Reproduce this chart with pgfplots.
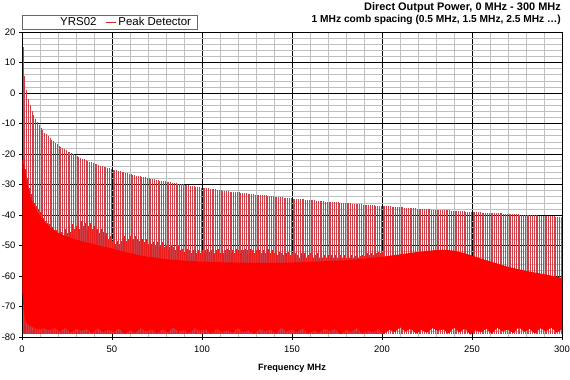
\documentclass[border=0pt]{standalone}
\usepackage{pgfplots}
\pgfplotsset{compat=1.18}
\usepackage{pgfplotstable}
\usepackage{fontspec}
\setmainfont{Liberation Sans}
\definecolor{spk}{RGB}{208,62,72}
\definecolor{legline}{RGB}{190,40,50}
\definecolor{secred}{RGB}{235,30,30}
\definecolor{floorred}{RGB}{255,0,0}

% peak of each comb line at 0.5, 1.5, 2.5 ... 299.5 MHz
\pgfplotstableread[row sep=\\]{y\\
15.0\\ 5.5\\ 1.0\\ -1.9\\ -4.1\\ -5.8\\ -7.3\\ -8.5\\ -9.6\\ -10.6\\
-11.4\\ -12.2\\ -13.0\\ -13.6\\ -14.2\\ -14.8\\ -15.4\\ -15.9\\ -16.4\\ -16.8\\
-17.3\\ -17.7\\ -18.1\\ -18.4\\ -18.8\\ -19.2\\ -19.5\\ -19.8\\ -20.1\\ -20.4\\
-20.7\\ -21.0\\ -21.3\\ -21.5\\ -21.8\\ -22.0\\ -22.3\\ -22.5\\ -22.7\\ -23.0\\
-23.2\\ -23.4\\ -23.6\\ -23.8\\ -24.0\\ -24.2\\ -24.4\\ -24.6\\ -24.7\\ -24.9\\
-25.1\\ -25.2\\ -25.4\\ -25.6\\ -25.7\\ -25.9\\ -26.0\\ -26.2\\ -26.3\\ -26.5\\
-26.7\\ -26.8\\ -26.9\\ -27.1\\ -27.2\\ -27.3\\ -27.5\\ -27.6\\ -27.7\\ -27.9\\
-28.0\\ -28.1\\ -28.2\\ -28.3\\ -28.4\\ -28.6\\ -28.7\\ -28.8\\ -28.9\\ -29.0\\
-29.1\\ -29.2\\ -29.3\\ -29.4\\ -29.5\\ -29.6\\ -29.7\\ -29.8\\ -29.9\\ -30.0\\
-30.2\\ -30.2\\ -30.3\\ -30.4\\ -30.5\\ -30.6\\ -30.7\\ -30.8\\ -30.9\\ -31.0\\
-31.1\\ -31.1\\ -31.2\\ -31.3\\ -31.4\\ -31.5\\ -31.6\\ -31.6\\ -31.7\\ -31.8\\
-31.9\\ -32.0\\ -32.0\\ -32.1\\ -32.2\\ -32.3\\ -32.3\\ -32.4\\ -32.5\\ -32.6\\
-32.6\\ -32.7\\ -32.8\\ -32.8\\ -32.9\\ -33.0\\ -33.1\\ -33.1\\ -33.2\\ -33.3\\
-33.3\\ -33.4\\ -33.5\\ -33.5\\ -33.6\\ -33.6\\ -33.7\\ -33.8\\ -33.8\\ -33.9\\
-34.0\\ -34.0\\ -34.1\\ -34.2\\ -34.2\\ -34.3\\ -34.3\\ -34.4\\ -34.5\\ -34.5\\
-34.6\\ -34.6\\ -34.7\\ -34.7\\ -34.8\\ -34.8\\ -34.9\\ -35.0\\ -35.0\\ -35.1\\
-35.1\\ -35.2\\ -35.2\\ -35.3\\ -35.3\\ -35.4\\ -35.4\\ -35.5\\ -35.6\\ -35.6\\
-35.7\\ -35.7\\ -35.8\\ -35.8\\ -35.9\\ -35.9\\ -36.0\\ -36.0\\ -36.1\\ -36.1\\
-36.2\\ -36.2\\ -36.2\\ -36.3\\ -36.3\\ -36.4\\ -36.4\\ -36.5\\ -36.5\\ -36.6\\
-36.6\\ -36.7\\ -36.7\\ -36.8\\ -36.8\\ -36.8\\ -36.9\\ -36.9\\ -37.0\\ -37.0\\
-37.1\\ -37.1\\ -37.1\\ -37.2\\ -37.2\\ -37.3\\ -37.3\\ -37.4\\ -37.4\\ -37.4\\
-37.5\\ -37.5\\ -37.6\\ -37.6\\ -37.7\\ -37.7\\ -37.7\\ -37.8\\ -37.8\\ -37.9\\
-37.9\\ -37.9\\ -38.0\\ -38.0\\ -38.0\\ -38.1\\ -38.1\\ -38.2\\ -38.2\\ -38.2\\
-38.3\\ -38.3\\ -38.3\\ -38.4\\ -38.4\\ -38.5\\ -38.5\\ -38.5\\ -38.6\\ -38.6\\
-38.6\\ -38.7\\ -38.7\\ -38.7\\ -38.8\\ -38.8\\ -38.9\\ -38.9\\ -38.9\\ -39.0\\
-39.0\\ -39.0\\ -39.1\\ -39.1\\ -39.1\\ -39.2\\ -39.2\\ -39.2\\ -39.3\\ -39.3\\
-39.3\\ -39.4\\ -39.4\\ -39.4\\ -39.5\\ -39.5\\ -39.5\\ -39.6\\ -39.6\\ -39.6\\
-39.7\\ -39.7\\ -39.7\\ -39.8\\ -39.8\\ -39.8\\ -39.9\\ -39.9\\ -39.9\\ -40.0\\
-40.0\\ -40.0\\ -40.1\\ -40.1\\ -40.1\\ -40.1\\ -40.2\\ -40.2\\ -40.2\\ -40.3\\
-40.3\\ -40.3\\ -40.3\\ -40.4\\ -40.4\\ -40.4\\ -40.5\\ -40.5\\ -40.5\\ -40.6\\
}\mainspk

% secondary (lower) lines at 1, 2, 3 ... 200 MHz
\pgfplotstableread[row sep=\\]{y\\
-21\\ -25\\ -28\\ -31\\ -33\\ -35\\ -36\\ -37\\ -38\\ -39\\
-40\\ -41\\ -42\\ -42.5\\ -43\\ -44\\ -44\\ -45\\ -45\\ -46\\
-46\\ -45.5\\ -47\\ -44.5\\ -46\\ -44\\ -45.5\\ -43\\ -44.5\\ -43.5\\
-42.5\\ -44.5\\ -42\\ -43.5\\ -42.5\\ -45\\ -43.5\\ -42.5\\ -44.5\\ -43.5\\
-45\\ -44.5\\ -46\\ -44.5\\ -45.5\\ -47\\ -46\\ -48\\ -47\\ -48.5\\
-48\\ -49.5\\ -48.5\\ -49.5\\ -48.5\\ -48\\ -47\\ -48.5\\ -48\\ -47\\
-48.5\\ -48\\ -47\\ -48\\ -48.5\\ -47.5\\ -48\\ -49\\ -48\\ -49.5\\
-49\\ -49.5\\ -49\\ -50\\ -49\\ -50.5\\ -50\\ -49\\ -50.5\\ -50\\
-51.5\\ -50.5\\ -50\\ -50.5\\ -51.5\\ -50.5\\ -50\\ -51.5\\ -51\\ -52\\
-51.5\\ -51\\ -51.5\\ -52.5\\ -51.5\\ -51\\ -52.5\\ -51.5\\ -52.5\\ -51.5\\
-52\\ -51.5\\ -51\\ -52\\ -51.5\\ -51\\ -52.5\\ -51.5\\ -51\\ -52.5\\
-51.5\\ -52.5\\ -51.5\\ -51\\ -51.5\\ -52.5\\ -51.5\\ -52.5\\ -51\\ -51.5\\
-52.5\\ -51.5\\ -51.5\\ -51\\ -51.5\\ -52.5\\ -51\\ -51.5\\ -52.5\\ -51.5\\
-51\\ -51.5\\ -52.5\\ -51.5\\ -52.5\\ -51.5\\ -51\\ -52.5\\ -51.5\\ -52.5\\
-52.5\\ -53\\ -52\\ -52.5\\ -53\\ -52.5\\ -52.5\\ -52\\ -53\\ -52.5\\
-53\\ -52.5\\ -53\\ -54\\ -52.5\\ -53\\ -52.5\\ -54\\ -53\\ -52.5\\
-53\\ -54\\ -53\\ -52.5\\ -54\\ -53\\ -54\\ -53\\ -54\\ -53\\
-54\\ -53\\ -54\\ -53\\ -54\\ -54\\ -53\\ -54\\ -53\\ -54\\
-53.5\\ -54\\ -53\\ -54\\ -53.5\\ -53\\ -54\\ -53.5\\ -53\\ -53.5\\
-53\\ -52.5\\ -53\\ -52.5\\ -53\\ -52\\ -52.5\\ -52\\ -52.5\\ -52\\
}\secspk

\newcommand\legfont{\fontsize{11.5}{12}\selectfont}

\begin{document}
\begin{tikzpicture}
\begin{axis}[
  name=ax,
  scale only axis, width=540bp, height=305bp,
  xmin=0, xmax=300, ymin=-80, ymax=20,
  axis x line=bottom, axis y line=left, axis line style={-, black, line width=0.6bp},
  xtick={0,50,...,300}, ytick={-80,-70,...,20},
  minor x tick num=4, minor y tick num=4,
  grid=both,
  major grid style={black, line width=0.6bp},
  minor grid style={black!25, line width=0.5bp},
  tick style={black, line width=0.6bp},
  major tick length=3bp, minor tick length=0pt,
  tick align=outside,
  /pgf/number format/assume math mode=true,
  ticklabel style={font=\fontsize{9.5}{10}\selectfont},
  xticklabel style={yshift=-2bp},
  legend columns=2,
  legend style={at={(rel axis cs:0,1)}, anchor=south west, yshift=2bp,
    draw=black!60, line width=0.5bp,
    inner xsep=0pt, inner ysep=0.5bp, row sep=0pt},
  legend image code/.code={\draw[#1] (0bp,0bp) -- (10bp,0bp);},
]
\addlegendimage{empty legend}
\addlegendentry{\legfont\kern36bp YRS02\kern7bp}
\addlegendimage{legline, line width=0.9bp}
\addlegendentry{\legfont Peak Detector\kern4bp}

\addplot[quiver={u=0, v=\thisrow{y}+79}, draw=spk, line width=0.45bp, forget plot]
  table[x index=0, y index=0, x expr=\coordindex+0.5, y expr=-79] {\mainspk};
\addplot[quiver={u=0, v=\thisrow{y}+79}, draw=secred, line width=0.4bp, forget plot]
  table[x index=0, y index=0, x expr=\coordindex+1, y expr=-79] {\secspk};
\addplot[fill=floorred, draw=none, forget plot] coordinates {
 (0.2,-22) (0.8,-23) (1.5,-25) (2.2,-27.5) (3,-30) (4,-32.5) (5,-34.5) (6,-36)
 (7,-37.2) (8,-38.3) (9,-39.3) (10,-40.3) (12,-41.8) (14,-43.2) (16,-44.2)
 (18,-45) (20,-45.8) (23,-46.6) (26,-47.3) (30,-48.1) (35,-48.9) (40,-49.6)
 (45,-50.3) (50,-51) (55,-51.8) (60,-52.5) (65,-53.2) (70,-53.7) (75,-54.1)
 (80,-54.5) (90,-55) (100,-55.3) (110,-55.5) (120,-55.6) (130,-55.7) (140,-55.7)
 (150,-55.6) (160,-55.4) (170,-55.1) (180,-54.8) (190,-54.3) (200,-53.7)
 (210,-52.9) (220,-52.1) (230,-51.5) (235,-51.4) (240,-51.7) (245,-52.4)
 (250,-53.3) (255,-54.3) (260,-55.2) (265,-56.1) (270,-57) (275,-57.7)
 (280,-58.3) (285,-58.9) (290,-59.4) (295,-60) (300,-60.6)
 (300,-77.5) (297,-78.6) (294,-76.9) (291,-78.2) (288,-77.1) (285,-78.9) (282,-77.4)
 (279,-78.3) (276,-76.8) (273,-78.7) (270,-77.6) (267,-78.1) (264,-77.0) (261,-79.0)
 (258,-77.3) (255,-78.4) (252,-77.8) (249,-79.2) (246,-77.2) (243,-78.5) (240,-76.9)
 (237,-78.8) (234,-77.5) (231,-78.0) (228,-77.1) (225,-78.6) (222,-77.7) (219,-78.9)
 (216,-77.3) (213,-78.2) (210,-76.8) (207,-78.4) (204,-77.6) (201,-79.0) (198,-77.2)
 (195,-78.5) (192,-77.9) (189,-78.7) (186,-77.0) (183,-78.3) (180,-77.5) (177,-79.1)
 (174,-77.4) (171,-78.0) (168,-77.2) (165,-78.6) (162,-77.8) (159,-78.9) (156,-77.1)
 (153,-78.4) (150,-77.6) (147,-78.2) (144,-76.9) (141,-78.8) (138,-77.5) (135,-78.1)
 (132,-77.3) (129,-79.0) (126,-77.7) (123,-78.4) (120,-77.0) (117,-78.6) (114,-77.8)
 (111,-78.3) (108,-77.2) (105,-78.9) (102,-77.4) (99,-78.0) (96,-77.1) (93,-78.7)
 (90,-77.6) (87,-78.2) (84,-76.8) (81,-78.5) (78,-77.3) (75,-78.8) (72,-77.5)
 (69,-78.1) (66,-77.0) (63,-78.6) (60,-77.7) (57,-79.0) (54,-77.2) (51,-78.3)
 (48,-77.6) (45,-78.4) (42,-77.1) (39,-78.7) (36,-77.4) (33,-78.0) (30,-77.3)
 (27,-78.6) (24,-77.0) (21,-78.2) (18,-76.9) (15,-77.8) (12,-77.1) (9,-77.6)
 (6,-76.8) (4,-76.2) (2.5,-75.4) (1.5,-73.5) (0.8,-70) (0.2,-65)
} -- cycle;
\end{axis}
\node[anchor=base east, font=\bfseries\fontsize{11}{12}\selectfont, inner sep=0pt]
  at ([shift={(-1bp,21bp)}]ax.north east) {Direct Output Power, 0 MHz - 300 MHz};
\node[anchor=base east, font=\bfseries\fontsize{10.25}{12}\selectfont, inner sep=0pt]
  at ([shift={(-1bp,9bp)}]ax.north east) {1 MHz comb spacing (0.5 MHz, 1.5 MHz, 2.5 MHz …)};
\node[anchor=base, font=\bfseries\fontsize{9.2}{10}\selectfont, inner sep=0pt]
  at ([yshift=-34bp]ax.south) {Frequency MHz};
\pgfresetboundingbox
\path ([shift={(-22bp,-43bp)}]ax.south west) rectangle ([shift={(8bp,32bp)}]ax.north east);
\end{tikzpicture}
\end{document}
